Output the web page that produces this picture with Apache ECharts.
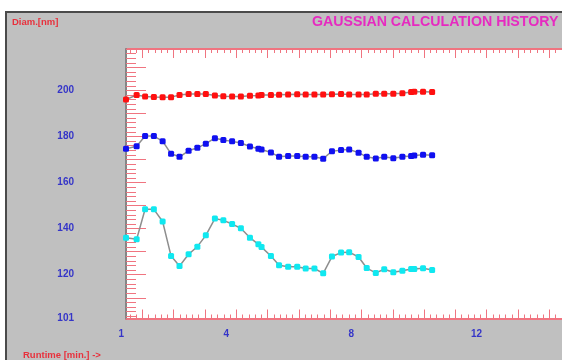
<!DOCTYPE html>
<html>
<head>
<meta charset="utf-8">
<script src="https://cdn.jsdelivr.net/npm/echarts@6/dist/echarts.min.js"></script>
<style>
html,body{margin:0;padding:0;background:#fff;overflow:hidden;width:562px;height:360px;}
#c{width:602px;height:360px;}
</style>
</head>
<body>
<div id="c"></div>
<script>
// Runtime [min.]
var runtime = [0.80,1.14,1.41,1.69,1.97,2.24,2.51,2.80,3.08,3.35,3.64,3.91,4.19,4.47,4.76,5.03,5.13,5.43,5.69,5.98,6.27,6.54,6.82,7.10,7.38,7.67,7.93,8.23,8.49,8.78,9.05,9.34,9.63,9.91,10.01,10.29,10.58];
// Diam. [nm]
var redSeries = [196.1,198.0,197.4,197.2,197.1,197.1,198.0,198.5,198.5,198.5,197.8,197.5,197.4,197.4,197.7,197.8,198.0,198.0,198.1,198.3,198.4,198.3,198.3,198.3,198.4,198.5,198.3,198.3,198.3,198.6,198.6,198.6,198.8,199.3,199.4,199.4,199.3];
var blueSeries = [174.7,175.8,180.2,180.2,178.0,172.5,171.2,173.8,175.1,176.9,179.3,178.5,177.9,177.2,175.7,174.7,174.4,173.1,171.2,171.5,171.5,171.2,171.2,170.4,173.6,174.1,174.4,173.0,171.2,170.5,171.2,170.6,171.2,171.5,171.8,172.1,171.9];
var cyanSeries = [136.1,135.4,148.4,148.4,143.1,128.1,123.8,128.9,132.2,137.1,144.4,143.6,142.0,140.2,136.1,133.2,132.0,128.1,124.1,123.5,123.5,122.7,122.7,120.6,127.9,129.6,129.8,127.7,122.9,120.8,122.4,121.1,121.7,122.5,122.5,122.8,122.1];
var xTickLabels = [1, 4, 8, 12];
var yTickLabels = [101, 120, 140, 160, 180, 200];

var FONT = 'Liberation Sans, Arial, sans-serif';
var BLUE_TXT = '#3535c8';
var TICK_RED = '#f07480';

function pairs(vals) { return vals.map(function (v, i) { return [runtime[i], v]; }); }

function mkSeries(name, vals, color) {
  return {
    name: name, type: 'line', xAxisIndex: 0, yAxisIndex: 0,
    data: pairs(vals),
    symbol: 'roundRect', symbolSize: 6,
    lineStyle: { color: '#8e8e8e', width: 1.5 },
    itemStyle: { color: color },
    animation: false, z: 5
  };
}

var tickAxisCommon = {
  type: 'value', min: 0.476, max: 15.587, minInterval: 1, maxInterval: 1, z: 3,
  axisLine: { show: true, lineStyle: { color: TICK_RED, width: 2 } },
  axisTick: { show: true, inside: true, length: 9, lineStyle: { color: TICK_RED, width: 1 } },
  minorTick: { show: true, splitNumber: 5, length: 4, lineStyle: { color: TICK_RED, width: 1 } },
  axisLabel: { show: false }, splitLine: { show: false }
};

var chart = echarts.init(document.getElementById('c'), null, { renderer: 'canvas' });
chart.setOption({
  backgroundColor: '#ffffff',
  animation: false,
  grid: { left: 126, top: 49, bottom: 41.5, right: 0, show: true, backgroundColor: '#ffffff', borderWidth: 0, z: 0 },
  graphic: [
    { type: 'rect', z: -10, shape: { x: 6, y: 12, width: 640, height: 420 },
      style: { fill: '#c0c0c0', stroke: '#4a4a4a', lineWidth: 2 } },
    { type: 'text', z: 10, left: 12, top: 17,
      style: { text: 'Diam.[nm]', fill: '#e8303c', font: 'bold 9.5px ' + FONT } },
    { type: 'text', z: 10, left: 312, top: 15,
      style: { text: 'GAUSSIAN CALCULATION HISTORY', fill: '#e62ac0', font: 'bold 14.2px ' + FONT } },
    { type: 'text', z: 10, left: 23, top: 350,
      style: { text: 'Runtime [min.] ->', fill: '#e8303c', font: 'bold 9.5px ' + FONT } }
  ],
  xAxis: [
    { type: 'value', position: 'bottom', min: 0.8, max: 15.911, minInterval: 1, maxInterval: 1, z: 3,
      axisLine: { show: false }, axisTick: { show: false }, splitLine: { show: false },
      axisLabel: {
        show: true, margin: 11, color: BLUE_TXT, fontWeight: 'bold', fontSize: 10, fontFamily: FONT,
        showMinLabel: true, showMaxLabel: true,
        formatter: function (v) {
          var r = Math.round(v);
          if (Math.abs(v - r) > 1e-6 || xTickLabels.indexOf(r) < 0) return '';
          if (r === xTickLabels[0]) return '{a|' + r + '}';
          return String(r);
        },
        rich: { a: { color: BLUE_TXT, fontWeight: 'bold', fontSize: 10, fontFamily: FONT, padding: [0, 22, 0, 0] } }
      }
    },
    Object.assign({ position: 'bottom' }, tickAxisCommon),
    Object.assign({ position: 'top' }, tickAxisCommon)
  ],
  yAxis: [
    { type: 'value', position: 'left', min: 101, max: 218, minInterval: 10, maxInterval: 10, z: 4,
      axisLine: { show: true, lineStyle: { color: '#858585', width: 2 } },
      axisTick: { show: true, inside: true, length: 20, lineStyle: { color: TICK_RED, width: 1 } },
      minorTick: { show: true, splitNumber: 5, length: 10, lineStyle: { color: TICK_RED, width: 1 } },
      splitLine: { show: false },
      axisLabel: {
        show: true, margin: 52, color: BLUE_TXT, fontWeight: 'bold', fontSize: 10, fontFamily: FONT,
        showMinLabel: true, showMaxLabel: true,
        formatter: function (v) {
          var r = Math.round(v * 1000) / 1000;
          return yTickLabels.indexOf(r) >= 0 ? String(r) : '';
        }
      }
    }
  ],
  series: [
    mkSeries('red', redSeries, '#ff1010'),
    mkSeries('blue', blueSeries, '#1010f0'),
    mkSeries('cyan', cyanSeries, '#10e8f0')
  ]
});
</script>
</body>
</html>
